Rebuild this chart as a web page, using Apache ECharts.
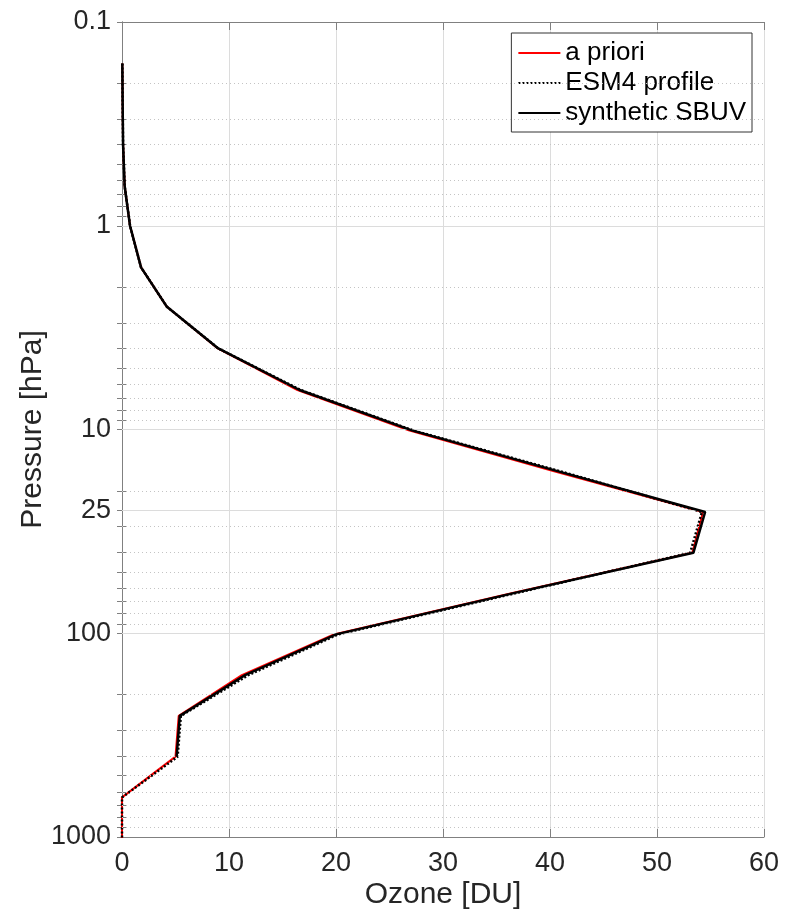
<!DOCTYPE html>
<html>
<head>
<meta charset="utf-8">
<script src="https://cdn.jsdelivr.net/npm/echarts@6/dist/echarts.min.js"></script>
<style>
html, body { margin: 0; background: #fff; }
#chart { width: 794px; height: 915px; }
</style>
</head>
<body>
<div id="chart"></div>
<script>
// SBUV layer boundaries [hPa]
const pressure = [0.16, 0.25, 0.40, 0.64, 1.0, 1.6, 2.5, 4.0, 6.4, 10.1, 16.0, 25.4, 40.3, 63.9, 101.3, 160.6, 254.5, 403.4, 639.3, 1013.25];
// ozone [DU]
const aPriori = [0.03, 0.06, 0.1, 0.25, 0.75, 1.78, 4.2, 8.95, 16.4, 26.8, 40.3, 54.3, 53.3, 36.2, 19.8, 11.2, 5.3, 5.0, 0, 0];
const esm4 = [0.03, 0.06, 0.1, 0.25, 0.75, 1.78, 4.2, 9.0, 16.7, 27.2, 40.9, 54.2, 53.1, 36.6, 20.2, 11.8, 5.5, 5.2, 0, 0];
const sbuv = [0.03, 0.06, 0.1, 0.25, 0.75, 1.78, 4.2, 9.0, 16.6, 27.1, 40.7, 54.5, 53.4, 36.4, 20.0, 11.5, 5.4, 5.1];

const yTicks = [0.1, 1, 10, 25, 100, 1000];
const yMajorGrid = [1, 10, 25, 100];
const yMinor = [0.2, 0.3, 0.4, 0.5, 0.6, 0.7, 0.8, 0.9,
	2, 3, 4, 5, 6, 7, 8, 9,
	20, 30, 40, 50, 60, 70, 80, 90,
	200, 300, 400, 500, 600, 700, 800, 900];

const FONT = 'Liberation Sans, Arial, Helvetica, sans-serif';
const axisCol = '#808080';
const txtCol = '#262626';

function pairs(vals) {
	return vals.map((v, i) => [v, pressure[i]]);
}

// horizontal grid: solid at the labelled decades, dotted at the minor values
const gridLines = yMajorGrid.map(v => ({ yAxis: v, lineStyle: { color: '#dcdcdc', type: 'solid', width: 1 } }))
	.concat(yMinor.map(v => ({ yAxis: v, lineStyle: { color: '#c4c4c4', type: [1, 3], width: 1 } })));

function yAxisOpt(pos, extra) {
	return Object.assign({
		type: 'log',
		logBase: 10,
		inverse: true,
		min: 0.1,
		max: 1000,
		position: pos,
		axisLine: { show: true, lineStyle: { color: axisCol, width: 1 } },
		axisTick: { show: true, inside: true, length: 5, customValues: yTicks.concat(yMinor), lineStyle: { color: axisCol } },
		splitLine: { show: false },
		minorTick: { show: false }
	}, extra);
}

const chart = echarts.init(document.getElementById('chart'));
chart.setOption({
	animation: false,
	backgroundColor: '#fff',
	grid: { left: 122, right: 30, top: 22, bottom: 78, containLabel: false },
	legend: {
		data: ['a priori', 'ESM4 profile', 'synthetic SBUV'],
		orient: 'vertical',
		right: 42,
		top: 33,
		itemWidth: 42,
		itemHeight: 14,
		itemGap: 2,
		padding: [6, 6, 5, 6],
		backgroundColor: '#fff',
		borderColor: '#333',
		borderWidth: 1,
		borderRadius: 0,
		itemStyle: { opacity: 0, borderWidth: 0 },
		textStyle: { fontFamily: FONT, fontSize: 26, color: '#000', lineHeight: 28 }
	},
	xAxis: [{
		type: 'value',
		min: 0,
		max: 60,
		interval: 10,
		position: 'bottom',
		name: 'Ozone [DU]',
		nameLocation: 'middle',
		nameGap: 43,
		nameMoveOverlap: false,
		nameTextStyle: { fontFamily: FONT, fontSize: 30, color: txtCol },
		axisLine: { show: true, lineStyle: { color: axisCol } },
		axisTick: { show: true, inside: true, length: 8, lineStyle: { color: axisCol } },
		axisLabel: { fontFamily: FONT, fontSize: 27, color: txtCol, margin: 13 },
		splitLine: { show: true, lineStyle: { color: '#dcdcdc', width: 1 } }
	}, {
		type: 'value',
		min: 0,
		max: 60,
		interval: 10,
		position: 'top',
		axisLine: { show: true, lineStyle: { color: axisCol } },
		axisTick: { show: true, inside: true, length: 8, lineStyle: { color: axisCol } },
		axisLabel: { show: false },
		splitLine: { show: false }
	}],
	yAxis: [yAxisOpt('left', {
		name: 'Pressure [hPa]',
		nameLocation: 'middle',
		nameGap: 74,
		nameMoveOverlap: false,
		nameTextStyle: { fontFamily: FONT, fontSize: 30, color: txtCol },
		axisLabel: {
			show: true,
			customValues: yTicks,
			fontFamily: FONT,
			fontSize: 27,
			color: txtCol,
			margin: 11,
			formatter: v => String(+(+v).toPrecision(6))
		}
	}), yAxisOpt('right', {
		axisLabel: { show: false }
	})],
	series: [{
		name: 'grid',
		type: 'line',
		data: [],
		z: 1,
		silent: true,
		markLine: { silent: true, symbol: 'none', label: { show: false }, animation: false, data: gridLines }
	}, {
		name: 'a priori',
		type: 'line',
		data: pairs(aPriori),
		symbol: 'none',
		z: 3,
		lineStyle: { color: '#ff0000', width: 2 },
		itemStyle: { color: '#ff0000' }
	}, {
		name: 'ESM4 profile',
		type: 'line',
		data: pairs(esm4),
		symbol: 'none',
		z: 4,
		lineStyle: { color: '#000', width: 2.5, type: [2, 2] },
		itemStyle: { color: '#000' }
	}, {
		name: 'synthetic SBUV',
		type: 'line',
		data: pairs(sbuv),
		symbol: 'none',
		z: 5,
		lineStyle: { color: '#000', width: 2.5 },
		itemStyle: { color: '#000' }
	}]
});
</script>
</body>
</html>
